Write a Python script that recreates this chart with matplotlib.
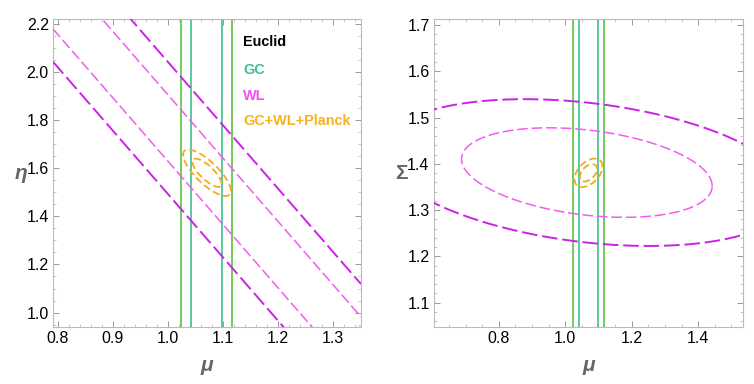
import numpy as np
import matplotlib
matplotlib.use("Agg")
import matplotlib.pyplot as plt
from matplotlib.ticker import MultipleLocator

plt.rcParams['font.family'] = ['Liberation Sans', 'DejaVu Sans']

# ---- data ----
levels_k = [1.515, 2.484]            # 68% / 95% 2D contour radii (sqrt of delta chi2)

# GC: vertical constraint on mu (center, half-widths inner/outer)
gc_center = 1.0703
gc_halfwidths = [0.028, 0.0465]

# Left panel (mu, eta)
wl_left_center = (1.07, 1.583)
wl_left_slope = -2.63
wl_left_halfwidths = [0.138, 0.2745]   # vertical half-widths inner / outer
comb_left = dict(center=(1.071, 1.581), sx=0.0175, sy=0.0388, rho=-0.78)

# Right panel (mu, Sigma)
wl_right = dict(center=(1.065, 1.381), sx=0.249, sy=0.0639, rho=-0.30)
comb_right = dict(center=(1.070, 1.3805), sx=0.0170, sy=0.0124, rho=0.45)

legend_labels = ["Euclid", "GC", "WL", "GC+WL+Planck"]

# ---- styles ----
c_green = "#5cc23f"
c_teal = "#3dbf90"
c_wl_out = "#cc22e6"
c_wl_in = "#f25cf0"
c_orange = "#f5aa1e"
legend_colors = ["black", c_teal, "#f050f0", "#f7b21e"]


def ellipse(p, k, n=400):
    t = np.linspace(0, 2 * np.pi, n)
    sx, sy, r = p['sx'], p['sy'], p['rho']
    cov = np.array([[sx * sx, r * sx * sy], [r * sx * sy, sy * sy]])
    L = np.linalg.cholesky(cov)
    pts = L @ np.vstack([k * np.cos(t), k * np.sin(t)])
    return pts[0] + p['center'][0], pts[1] + p['center'][1]


def style_axes(ax, xlim, ylim, xmaj, xmin, ymaj, ymin):
    ax.set_xlim(*xlim)
    ax.set_ylim(*ylim)
    ax.xaxis.set_major_locator(MultipleLocator(xmaj))
    ax.xaxis.set_minor_locator(MultipleLocator(xmin))
    ax.yaxis.set_major_locator(MultipleLocator(ymaj))
    ax.yaxis.set_minor_locator(MultipleLocator(ymin))
    ax.xaxis.set_major_formatter(plt.FuncFormatter(lambda v, _: f"{v:.1f}"))
    ax.yaxis.set_major_formatter(plt.FuncFormatter(lambda v, _: f"{v:.1f}"))
    for s in ax.spines.values():
        s.set_color("#bbbbbb")
        s.set_linewidth(0.8)
    ax.tick_params(which='both', direction='in', top=True, right=True,
                   color="#999999", labelsize=11.5, labelcolor='black', pad=3)
    ax.tick_params(which='major', length=4, width=0.7)
    ax.tick_params(which='minor', length=2, width=0.6, color="#bbbbbb")


fig = plt.figure(figsize=(7.54, 3.84), dpi=100)
axL = fig.add_axes([0.0703, 0.1484, 0.4085, 0.802])
axR = fig.add_axes([0.5752, 0.1484, 0.4102, 0.802])

# ---- left panel ----
xlimL = (0.791, 1.351)
ylimL = (0.94, 2.22)
for ax in (axL, axR):
    for hw, col in zip(gc_halfwidths, [c_teal, c_green]):
        for sgn in (-1, 1):
            ax.axvline(gc_center + sgn * hw, color=col, lw=1.2, zorder=2)

xs = np.linspace(xlimL[0], xlimL[1], 200)
for hw, col, lw, dash in zip(wl_left_halfwidths, [c_wl_in, c_wl_out], [1.1, 1.4],
                             [(7, 2.5), (8, 2.5)]):
    for sgn in (-1, 1):
        ys = wl_left_center[1] + wl_left_slope * (xs - wl_left_center[0]) + sgn * hw
        axL.plot(xs, ys, color=col, lw=lw, dashes=dash, zorder=3)

for k in levels_k:
    ex, ey = ellipse(comb_left, k)
    axL.plot(ex, ey, color=c_orange, lw=1.3, dashes=(4, 2), zorder=4)

style_axes(axL, xlimL, ylimL, 0.1, 0.02, 0.2, 0.05)
axL.set_xlabel("μ", fontsize=15, color="#666666", fontweight='bold', style='italic', labelpad=7)
axL.set_ylabel("η", fontsize=15, color="#666666", fontweight='bold', style='italic',
               rotation=0, labelpad=4, va='center')

# legend text
lx_fig = 243 / 754
ly_px = [41.7, 70, 95.7, 120.7]
for lab, col, ypx in zip(legend_labels, legend_colors, ly_px):
    fig.text(lx_fig, 1 - ypx / 384, lab, color=col, fontsize=10.4, fontweight='bold',
             ha='left', va='center')

# ---- right panel ----
xlimR = (0.604, 1.535)
ylimR = (1.047, 1.713)
for k, col, lw, dash in zip(levels_k, [c_wl_in, c_wl_out], [1.1, 1.4], [(7, 2.5), (8, 2.5)]):
    ex, ey = ellipse(wl_right, k)
    axR.plot(ex, ey, color=col, lw=lw, dashes=dash, zorder=3)
for k in levels_k:
    ex, ey = ellipse(comb_right, k)
    axR.plot(ex, ey, color=c_orange, lw=1.3, dashes=(4, 2), zorder=4)

style_axes(axR, xlimR, ylimR, 0.2, 0.05, 0.1, 0.02)
axR.set_xlabel("μ", fontsize=15, color="#666666", fontweight='bold', style='italic', labelpad=7)
axR.set_ylabel("Σ", fontsize=15, color="#666666", fontweight='bold',
               rotation=0, labelpad=4, va='center')

fig.savefig("out.png", dpi=100)
